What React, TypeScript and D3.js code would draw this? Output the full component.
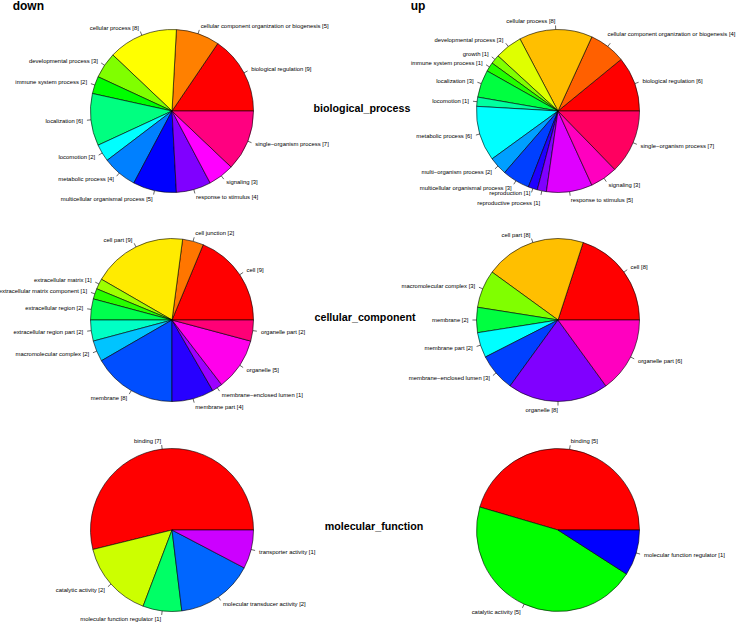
import React, { useRef, useEffect } from "react";
import * as d3 from "d3";

// GO categories, counts
const downBPLabels = [
  "biological regulation",
  "cellular component organization or biogenesis",
  "cellular process",
  "developmental process",
  "immune system process",
  "localization",
  "locomotion",
  "metabolic process",
  "multicellular organismal process",
  "response to stimulus",
  "signaling",
  "single\u2212organism process",
];
const downBPValues = [9, 5, 8, 3, 2, 6, 2, 4, 5, 4, 3, 7];

const upBPLabels = [
  "biological regulation",
  "cellular component organization or biogenesis",
  "cellular process",
  "developmental process",
  "growth",
  "immune system process",
  "localization",
  "locomotion",
  "metabolic process",
  "multi\u2212organism process",
  "multicellular organismal process",
  "reproduction",
  "reproductive process",
  "response to stimulus",
  "signaling",
  "single\u2212organism process",
];
const upBPValues = [6, 4, 8, 3, 1, 1, 3, 1, 6, 2, 3, 1, 1, 5, 3, 7];

const downCCLabels = [
  "cell",
  "cell junction",
  "cell part",
  "extracellular matrix",
  "extracellular matrix component",
  "extracellular region",
  "extracellular region part",
  "macromolecular complex",
  "membrane",
  "membrane part",
  "membrane\u2212enclosed lumen",
  "organelle",
  "organelle part",
];
const downCCValues = [9, 2, 9, 1, 1, 2, 2, 2, 8, 4, 1, 5, 2];

const upCCLabels = [
  "cell",
  "cell part",
  "macromolecular complex",
  "membrane",
  "membrane part",
  "membrane\u2212enclosed lumen",
  "organelle",
  "organelle part",
];
const upCCValues = [8, 8, 3, 2, 2, 3, 8, 6];

const downMFLabels = [
  "binding",
  "catalytic activity",
  "molecular function regulator",
  "molecular transducer activity",
  "transporter activity",
];
const downMFValues = [7, 2, 1, 2, 1];

const upMFLabels = ["binding", "catalytic activity", "molecular function regulator"];
const upMFValues = [5, 5, 1];

const columnTitles = ["down", "up"];
const rowTitles = ["biological_process", "cellular_component", "molecular_function"];

// R's rainbow(n): hsv with s = v = 1
const rainbow = (n: number) =>
  d3.range(n).map((i) => {
    const h = (i / n) * 6;
    const k = Math.floor(h);
    const f = h - k;
    const q = 1 - f;
    const rgb = [
      [1, f, 0],
      [q, 1, 0],
      [0, 1, f],
      [0, q, 1],
      [f, 0, 1],
      [1, 0, q],
    ][k % 6];
    return d3.rgb(rgb[0] * 255, rgb[1] * 255, rgb[2] * 255).formatHex();
  });

const App = () => {
  const ref = useRef<SVGSVGElement>(null);

  useEffect(() => {
    const svg = d3.select(ref.current);
    svg.selectAll("*").remove();

    const width = 736;
    const height = 622;
    const radius = 81.5;
    const font = "'Liberation Sans', Arial, Helvetica, sans-serif";

    svg.attr("width", width).attr("height", height);

    const colX = [172, 558];
    const rowY = [111, 320, 530];

    const panels = [
      { labels: downBPLabels, values: downBPValues, col: 0, row: 0 },
      { labels: upBPLabels, values: upBPValues, col: 1, row: 0 },
      { labels: downCCLabels, values: downCCValues, col: 0, row: 1 },
      { labels: upCCLabels, values: upCCValues, col: 1, row: 1 },
      { labels: downMFLabels, values: downMFValues, col: 0, row: 2 },
      { labels: upMFLabels, values: upMFValues, col: 1, row: 2 },
    ];

    // R pies start at 3 o'clock and run counter-clockwise
    const pie = d3
      .pie<number>()
      .sort(null)
      .startAngle(Math.PI / 2)
      .endAngle(Math.PI / 2 - 2 * Math.PI);

    const arc = d3.arc<d3.PieArcDatum<number>>().innerRadius(0).outerRadius(radius);

    panels.forEach((p) => {
      const cx = colX[p.col];
      const cy = rowY[p.row];
      const colors = rainbow(p.values.length);
      const arcs = pie(p.values);

      const g = svg.append("g").attr("transform", `translate(${cx},${cy})`);

      g.selectAll("path")
        .data(arcs)
        .join("path")
        .attr("d", arc)
        .attr("fill", (d, i) => colors[i])
        .attr("stroke", "#000")
        .attr("stroke-width", 0.6)
        .attr("stroke-linejoin", "round");

      const mid = (d: d3.PieArcDatum<number>) => (d.startAngle + d.endAngle) / 2;
      const px = (d: d3.PieArcDatum<number>, k: number) => Math.sin(mid(d)) * radius * k;
      const py = (d: d3.PieArcDatum<number>, k: number) => -Math.cos(mid(d)) * radius * k;

      g.selectAll("line")
        .data(arcs)
        .join("line")
        .attr("x1", (d) => px(d, 1))
        .attr("y1", (d) => py(d, 1))
        .attr("x2", (d) => px(d, 1.05))
        .attr("y2", (d) => py(d, 1.05))
        .attr("stroke", "#000")
        .attr("stroke-width", 0.6);

      // label anchor points, then spread labels that would sit on top of each other
      const pos = arcs.map((d) => ({ x: px(d, 1.1), y: py(d, 1.1), left: px(d, 1) < 0 }));
      [true, false].forEach((side) => {
        const idx = pos
          .map((q, i) => i)
          .filter((i) => pos[i].left === side)
          .sort((a, b) => pos[a].y - pos[b].y);
        for (let k = 1; k < idx.length; k++) {
          const a = pos[idx[k - 1]];
          const b = pos[idx[k]];
          const gap = b.y - a.y;
          if (gap < 6) {
            const push = (10 - gap) / 2;
            a.y -= push;
            b.y += push;
          }
        }
      });

      const texts = g
        .selectAll("text")
        .data(arcs)
        .join("text")
        .attr("x", (d, i) => pos[i].x)
        .attr("y", (d, i) => pos[i].y)
        .attr("dy", "0.35em")
        .attr("text-anchor", (d, i) => (pos[i].left ? "end" : "start"))
        .attr("font-family", font)
        .attr("font-size", 5.9)
        .attr("fill", "#000")
        .text((d, i) => `${p.labels[i]} [${p.values[i]}]`);

      // keep labels inside the figure
      texts.each(function (d, i) {
        const w = (this as SVGTextElement).getComputedTextLength();
        const q = pos[i];
        const right = cx + q.x + (q.left ? 0 : w);
        const over = right - (width - 0.5);
        if (over > 0) {
          d3.select(this)
            .attr("x", q.x - over)
            .attr("y", q.y - Math.sign(-q.y) * over * 1.2);
        }
      });
    });

    // column titles
    svg
      .selectAll("text.col")
      .data(columnTitles)
      .join("text")
      .attr("class", "col")
      .attr("x", (d, i) => [12.7, 410.7][i])
      .attr("y", (d, i) => [9.9, 10][i])
      .attr("font-family", font)
      .attr("font-weight", "bold")
      .attr("font-size", 12)
      .text((d) => d);

    // row titles
    svg
      .selectAll("text.row")
      .data(rowTitles)
      .join("text")
      .attr("class", "row")
      .attr("x", (d, i) => [362, 365, 374][i])
      .attr("y", (d, i) => [112.3, 321, 530][i])
      .attr("text-anchor", "middle")
      .attr("font-family", font)
      .attr("font-weight", "bold")
      .attr("font-size", 10.7)
      .text((d) => d);
  }, []);

  return (
    <svg
      ref={ref}
      style={{ position: "absolute", left: 0, top: 0, background: "#fff" }}
    ></svg>
  );
};

export default App;
